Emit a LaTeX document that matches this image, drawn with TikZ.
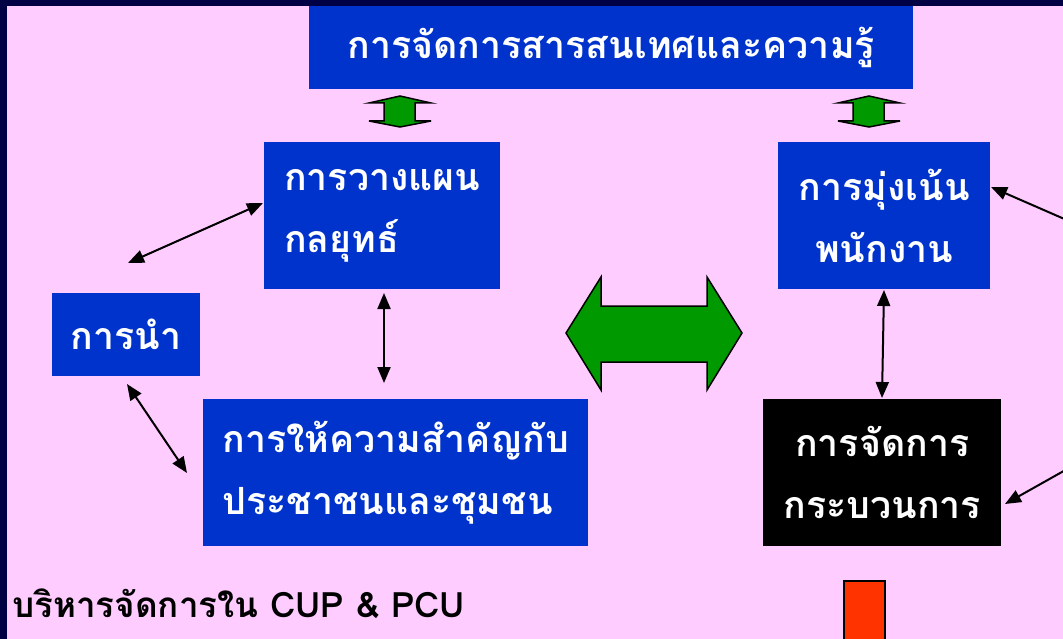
\documentclass[tikz,border=0pt]{standalone}
\usepackage{fontspec}
\newfontfamily\thaifont[Script=Thai]{Loma}
\usetikzlibrary{arrows.meta}
\definecolor{bg}{HTML}{FFCCFF}
\definecolor{navy}{HTML}{000044}
\definecolor{boxblue}{HTML}{0033CC}
\definecolor{agreen}{HTML}{009900}
\definecolor{ared}{HTML}{FF3300}
\begin{document}
\begin{tikzpicture}[x=1pt,y=-1pt,
  box/.style={fill=boxblue, text=white, inner sep=0pt, anchor=north west,
    font=\thaifont\bfseries\fontsize{37.5}{62}\selectfont},
  link/.style={line width=2pt, {Triangle[length=16pt,width=13pt]}-{Triangle[length=16pt,width=13pt]}},
  onelink/.style={line width=2pt, -{Triangle[length=16pt,width=13pt]}},
  fatarrow/.style={fill=agreen, draw=black, line width=1.5pt, line join=miter}]
\useasboundingbox (0,0) rectangle (1063,639);
\clip (0,0) rectangle (1063,639);
\fill[navy] (0,0) rectangle (1063,639);
\fill[bg] (7,6) rectangle (1063,639);

% boxes
\node[box, minimum width=604pt, minimum height=83pt] (km) at (309,6) {การจัดการสารสนเทศและความรู้};
\node[box, align=left, minimum width=236pt, minimum height=147pt] (plan) at (264,142) {การวางแผน\\กลยุทธ์};
\node[box, align=center, minimum width=212pt, minimum height=147pt] (hr) at (778,142) {การมุ่งเน้น\\พนักงาน};
\node[box, minimum width=148pt, minimum height=83pt] (lead) at (52,293) {การนำ};
\node[box, align=left, minimum width=385pt, minimum height=147pt] (cust) at (203,399) {การให้ความสำคัญกับ\\ประชาชนและชุมชน};
\node[box, fill=black, align=center, minimum width=238pt, minimum height=147pt] (proc) at (763,399) {การจัดการ\\กระบวนการ};
\node[draw=black, fill=ared, line width=1.5pt, inner sep=0pt, anchor=north west,
  minimum width=41pt, minimum height=80pt] (red) at (843,580) {};
\node[anchor=base west, inner sep=0pt, font=\thaifont\bfseries\fontsize{35}{40}\selectfont] (title) at (12,617) {บริหารจัดการใน CUP \& PCU};

% small double arrows
\draw[fatarrow] (400,96) -- (431,103) -- (415,103) -- (415,121) -- (431,121) -- (400,127) -- (369,121) -- (384,121) -- (384,103) -- (369,103) -- cycle;
\draw[fatarrow] (869,96) -- (900,103) -- (884,103) -- (884,121) -- (900,121) -- (869,127) -- (838,121) -- (853,121) -- (853,103) -- (838,103) -- cycle;
% big double arrow
\draw[fatarrow] (566,333) -- (601,277) -- (601,306) -- (707,306) -- (707,277) -- (742,333) -- (707,390) -- (707,362) -- (601,362) -- (601,390) -- cycle;

% connector ends
\coordinate (p1) at (128,263); \coordinate (p2) at (263,203);
\coordinate (p3) at (127,384); \coordinate (p4) at (187,473);
\coordinate (p5) at (384,293); \coordinate (p6) at (384,383);
\coordinate (p7) at (884,290); \coordinate (p8) at (882,398);
\coordinate (p9) at (1085,228); \coordinate (p10) at (991,187);
\coordinate (p11) at (1085,459); \coordinate (p12) at (1005,504);

\draw[link] (p1) -- (p2);
\draw[link] (p3) -- (p4);
\draw[link] (p5) -- (p6);
\draw[link] (p7) -- (p8);
\draw[onelink] (p9) -- (p10);
\draw[onelink] (p11) -- (p12);
\end{tikzpicture}
\end{document}
